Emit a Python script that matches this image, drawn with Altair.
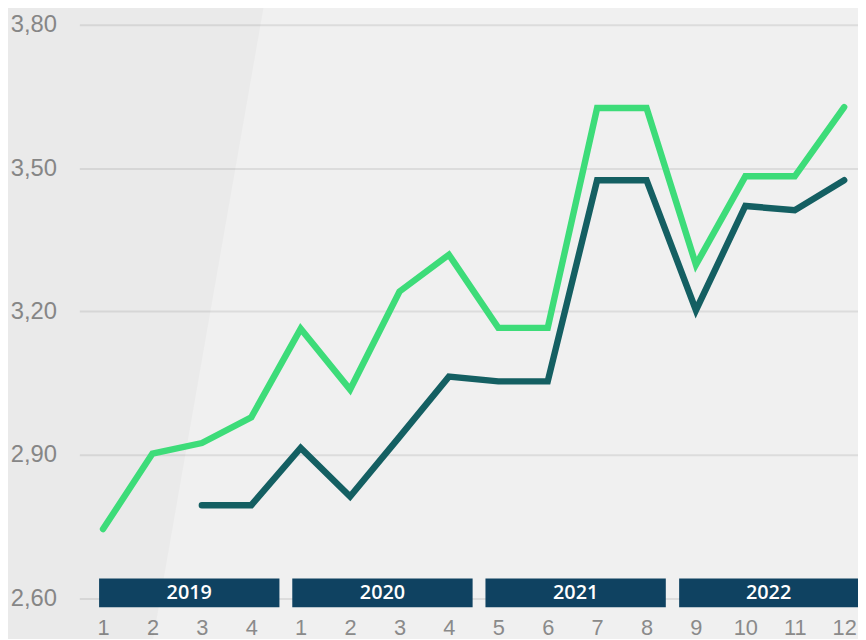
import altair as alt
import pandas as pd

# ---- data ----
x_index = list(range(1, 17))
x_labels = ["1", "2", "3", "4", "1", "2", "3", "4", "5", "6", "7", "8", "9", "10", "11", "12"]
green_vals = [2.745, 2.903, 2.925, 2.979, 3.164, 3.037, 3.242, 3.319,
              3.166, 3.166, 3.626, 3.626, 3.298, 3.483, 3.483, 3.628]
teal_vals = [None, None, 2.795, 2.795, 2.915, 2.813, 2.938, 3.064,
             3.054, 3.054, 3.475, 3.475, 3.203, 3.421, 3.412, 3.475]
years = ["2019", "2020", "2021", "2022"]
year_start = [0.92, 4.83, 8.74, 12.66]
year_end = [4.57, 8.48, 12.39, 16.6]
y_ticks = [2.60, 2.90, 3.20, 3.50, 3.80]

GREEN = "#3ddc79"
TEAL = "#145f62"
NAVY = "#0f4261"
GRAY = "#8a8a8a"

df_g = pd.DataFrame({"x": x_index, "y": green_vals})
df_t = pd.DataFrame({"x": x_index, "y": teal_vals}).dropna()
df_y = pd.DataFrame({"year": years, "x0": year_start, "x1": year_end,
                     "xm": [(a + b) / 2 for a, b in zip(year_start, year_end)]})
df_y.loc[3, "xm"] = (year_start[3] + 16.28) / 2

# subtle diagonal background band (decorative)
df_bg = pd.DataFrame({"yy": [2.50, 3.86], "xx": [1.99, 4.29], "xl": [-1.2, -1.2]})

label_arr = "[" + ",".join("'%s'" % s for s in x_labels) + "]"

xscale = alt.Scale(domain=[0.52, 16.28], nice=False, zero=False)
yscale = alt.Scale(domain=[2.60, 3.80], nice=False, zero=False)

bg = alt.Chart(df_bg).mark_area(color="#000000", orient="horizontal", opacity=0.022).encode(
    y=alt.Y("yy:Q", scale=yscale),
    x=alt.X("xx:Q", scale=xscale),
    x2="xl:Q",
)

base_axes = alt.Chart(df_g).mark_point(opacity=0).encode(
    x=alt.X("x:Q", scale=xscale,
            axis=alt.Axis(values=x_index, labelExpr=label_arr + "[datum.value-1]",
                          grid=False, ticks=False, domain=False, labelFontSize=22,
                          labelColor=GRAY, labelPadding=19, title=None,
                          labelFont="Liberation Sans", labelFlush=False)),
    y=alt.Y("y:Q", scale=yscale,
            axis=alt.Axis(values=y_ticks, labelExpr="replace(format(datum.value,'.2f'),'.',',')",
                          grid=True, gridColor="#dcdcdc", gridWidth=2, ticks=False,
                          domain=False, labelFontSize=24, labelColor=GRAY,
                          labelPadding=23, title=None, labelFont="Liberation Sans")),
)

line_g = alt.Chart(df_g).mark_line(color=GREEN, strokeWidth=6.5, strokeCap="round",
                                   strokeJoin="miter").encode(
    x=alt.X("x:Q", scale=xscale), y=alt.Y("y:Q", scale=yscale))
line_t = alt.Chart(df_t).mark_line(color=TEAL, strokeWidth=6.5, strokeCap="round",
                                   strokeJoin="miter").encode(
    x=alt.X("x:Q", scale=xscale), y=alt.Y("y:Q", scale=yscale))

boxes = alt.Chart(df_y).mark_rect(color=NAVY).encode(
    x=alt.X("x0:Q", scale=xscale), x2="x1:Q",
    y=alt.value(559), y2=alt.value(588))
box_text = alt.Chart(df_y).mark_text(color="white", fontSize=20, fontWeight=600,
                                     font="Open Sans", baseline="middle").encode(
    x=alt.X("xm:Q", scale=xscale), y=alt.value(574), text="year:N")

chart = alt.layer(bg, base_axes, line_g, line_t, boxes, box_text).properties(
    width=786, height=579,
    autosize=alt.AutoSizeParams(type="none"),
    padding={"left": 72, "top": 14, "right": 0, "bottom": 38},
    background="#f0f0f0",
).configure_view(stroke=None, fill=None)

chart.save("out.html", embed_options={"renderer": "svg", "actions": False})
